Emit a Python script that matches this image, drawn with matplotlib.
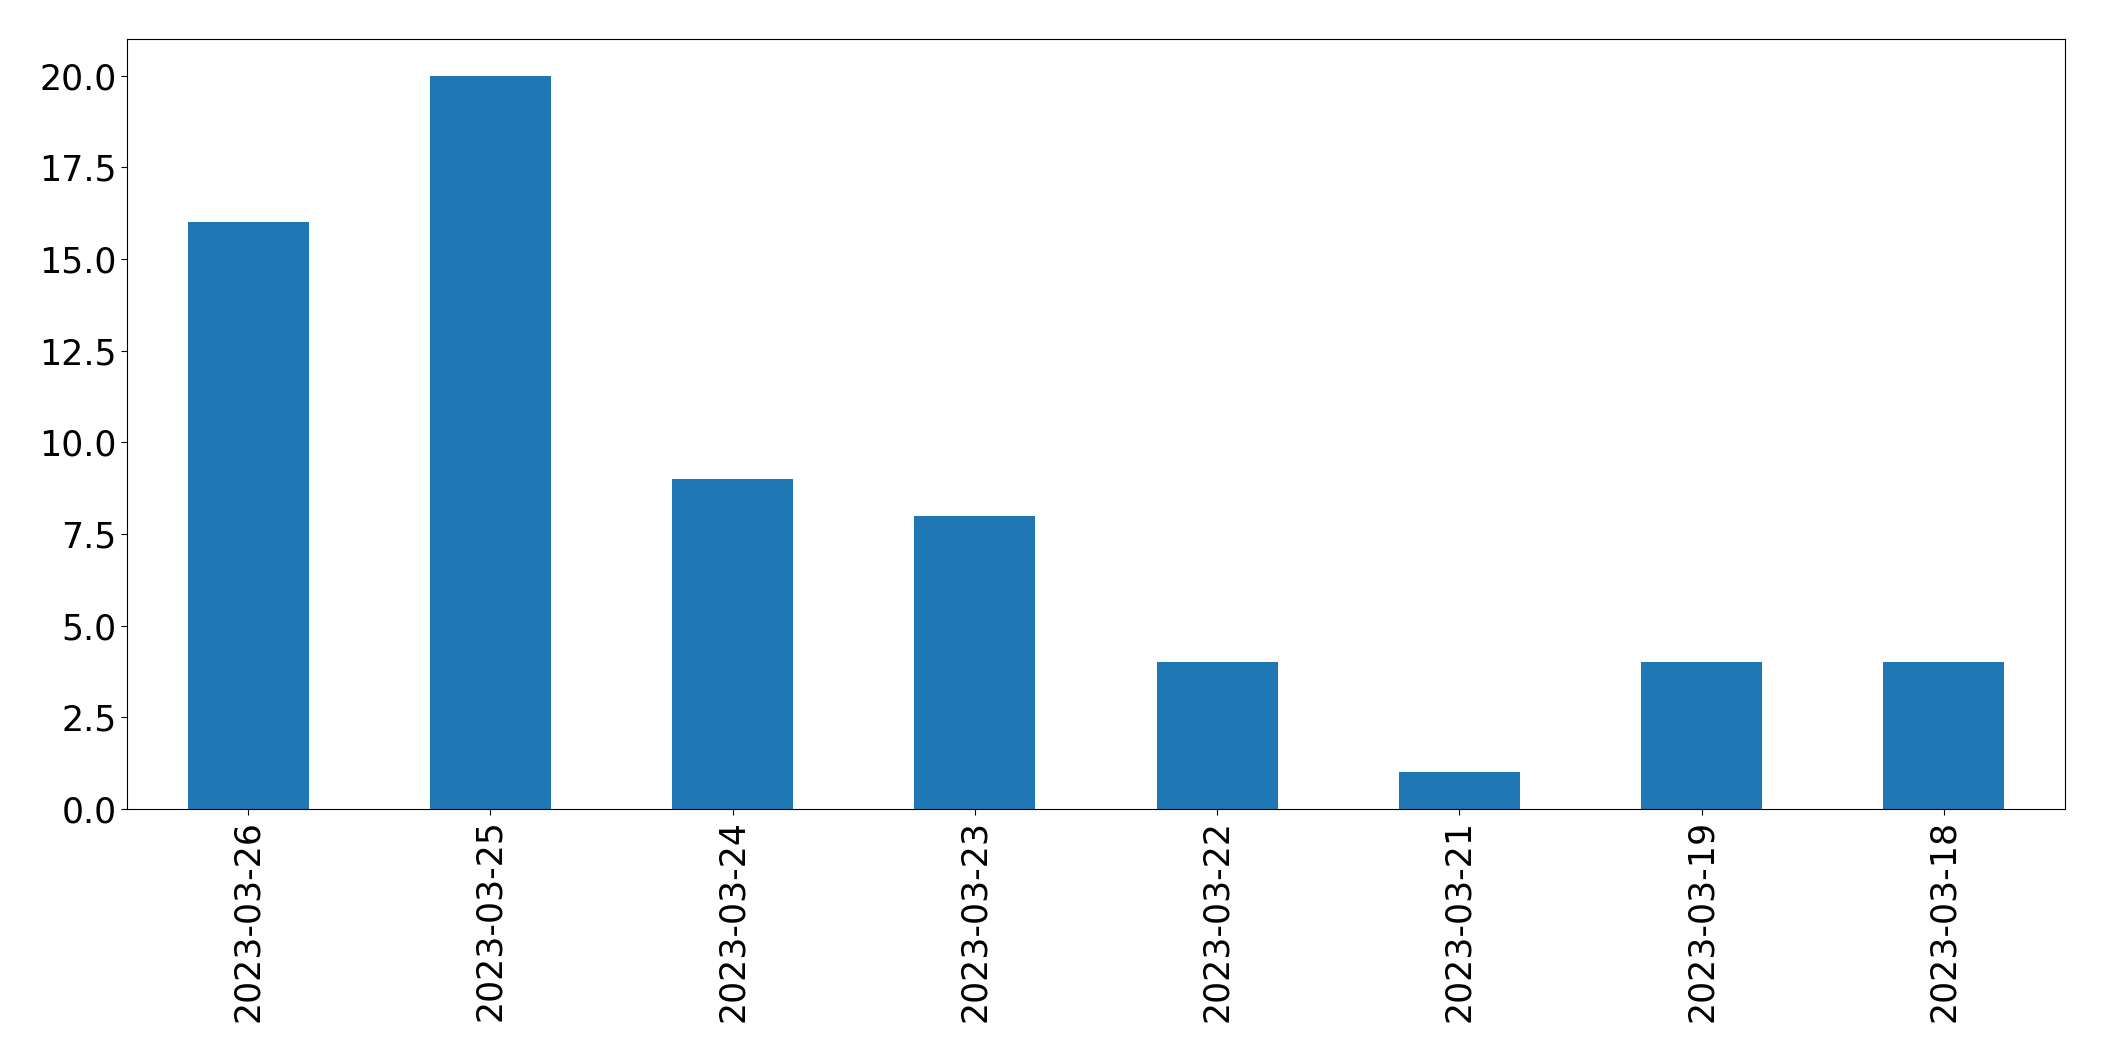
import matplotlib
matplotlib.use("Agg")
import pandas as pd
from matplotlib import pyplot as plt

# counts per day
dates = ["2023-03-26", "2023-03-25", "2023-03-24", "2023-03-23",
         "2023-03-22", "2023-03-21", "2023-03-19", "2023-03-18"]
counts = [16, 20, 9, 8, 4, 1, 4, 4]

plt.rcParams["font.size"] = 25
plt.rcParams["xtick.major.size"] = 4.1
plt.rcParams["ytick.major.size"] = 4.1

s = pd.Series(counts, index=dates)

fig = plt.figure(figsize=(21.04, 10.61), dpi=100)
ax = fig.add_axes([127/2104, 1 - 809/1061, (2065-127)/2104, (809-39)/1061])
s.plot.bar(ax=ax, color="#1f77b4")
ax.set_ylim(0, 21)

fig.savefig("out.png", dpi=100)
